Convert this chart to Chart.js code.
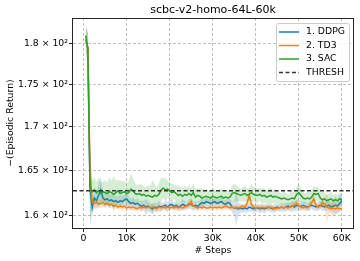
<!DOCTYPE html>
<html>
<head>
<meta charset="utf-8">
<script src="https://cdn.jsdelivr.net/npm/chart.js@4.4.1/dist/chart.umd.min.js"></script>
<style>
  html, body { margin: 0; padding: 0; background: #fff; }
  canvas { display: block; }
</style>
</head>
<body>
<canvas id="chart" width="360" height="261"></canvas>
<script>
const TITLE = "scbc-v2-homo-64L-60k";
const SERIES_NAMES = ["1. DDPG", "2. TD3", "3. SAC"];
const THRESH = 162.7;

// one entry every 500 steps, 500 .. 60000
const STEPS = Array.from({ length: 120 }, (_, i) => (i + 1) * 500);

const DDPG_MEAN = [
  180.5, 179.5, 163.0, 160.8, 161.9, 161.6, 162.2, 162.8, 161.9, 161.7,
  161.8, 161.6, 161.7, 161.5, 161.6, 161.4, 161.6, 161.5, 161.7, 161.8,
  161.5, 161.3, 161.4, 161.2, 161.3, 161.1, 161.0, 161.1, 160.9, 161.0,
  160.8, 160.7, 160.9, 160.8, 161.0, 160.9, 161.0, 161.1, 160.9, 161.1,
  161.2, 161.0, 161.1, 160.9, 161.0, 161.2, 161.1, 161.0, 161.3, 161.2,
  161.0, 161.1, 161.0, 161.2, 161.4, 161.3, 161.5, 161.4, 161.3, 161.4,
  161.5, 161.3, 161.4, 161.5, 161.3, 161.2, 161.4, 161.3, 160.9, 160.8,
  160.8, 160.7, 160.8, 160.7, 160.8, 160.7, 160.9, 160.8, 160.7, 160.8,
  160.8, 160.7, 160.8, 160.7, 160.8, 160.9, 160.8, 160.7, 160.8, 160.9,
  160.8, 160.9, 160.8, 160.9, 161.0, 160.9, 161.0, 160.9, 161.1, 161.0,
  161.0, 161.1, 161.0, 160.9, 161.0, 161.1, 161.0, 160.9, 161.0, 161.1,
  161.0, 160.9, 161.0, 161.1, 160.9, 161.0, 161.1, 161.0, 161.3, 161.6
];
const DDPG_SPREAD = [
  1.5, 1.8, 4.0, 0.8, 1.2, 0.9, 1.3, 1.5, 0.9, 0.8,
  0.7, 0.8, 0.6, 0.7, 0.6, 0.7, 0.6, 0.7, 0.6, 0.7,
  0.6, 0.5, 0.6, 0.5, 0.6, 0.5, 0.6, 0.5, 0.9, 0.6,
  0.5, 0.6, 0.5, 0.5, 0.6, 0.5, 0.4, 0.5, 0.6, 0.5,
  0.5, 0.4, 0.5, 0.4, 0.5, 0.6, 0.5, 0.4, 0.5, 0.6,
  0.5, 0.4, 0.5, 0.4, 0.5, 0.4, 0.5, 0.4, 0.5, 0.4,
  0.4, 0.5, 0.4, 0.5, 0.4, 0.5, 0.4, 0.5, 0.6, 0.8,
  2.0, 0.7, 0.5, 0.4, 0.5, 0.4, 0.5, 0.4, 0.5, 0.4,
  0.4, 0.5, 0.4, 0.5, 0.4, 0.4, 0.5, 0.4, 0.5, 0.4,
  0.4, 0.5, 0.4, 0.5, 0.4, 0.5, 0.6, 0.5, 0.6, 0.5,
  0.5, 0.4, 0.5, 0.4, 0.5, 0.4, 0.5, 0.4, 0.5, 0.4,
  0.5, 0.4, 0.5, 0.6, 0.5, 0.7, 1.0, 0.8, 0.9, 0.7
];

const TD3_MEAN = [
  180.5, 179.5, 165.0, 161.5, 161.3, 161.4, 161.2, 161.3, 161.4, 161.2,
  161.3, 161.1, 161.2, 161.0, 161.1, 160.9, 161.0, 160.9, 161.0, 160.8,
  160.9, 160.8, 160.9, 160.8, 160.7, 160.9, 160.8, 160.9, 160.8, 160.9,
  160.8, 160.9, 160.8, 160.7, 160.9, 160.8, 160.9, 160.8, 160.9, 160.8,
  160.9, 160.8, 160.9, 160.8, 160.9, 160.8, 160.9, 161.0, 161.1, 161.5,
  161.0, 160.9, 160.8, 160.9, 160.8, 160.9, 160.8, 160.8, 160.9, 160.8,
  160.9, 160.8, 160.9, 160.8, 160.9, 161.0, 160.9, 160.8, 160.9, 160.8,
  160.9, 160.8, 160.9, 161.0, 160.9, 161.3, 162.2, 161.2, 160.9, 160.8,
  160.9, 160.8, 160.9, 160.8, 160.9, 160.8, 160.9, 160.8, 160.7, 160.8,
  160.8, 160.9, 160.8, 160.9, 160.8, 160.9, 161.0, 161.1, 161.3, 161.0,
  160.9, 160.8, 160.9, 160.8, 161.0, 161.4, 161.8, 161.1, 160.9, 161.0,
  161.4, 161.2, 160.9, 160.8, 160.7, 160.8, 160.7, 160.8, 160.7, 160.7
];
const TD3_SPREAD = [
  1.5, 1.8, 3.5, 0.6, 0.5, 0.5, 0.4, 0.5, 0.4, 0.4,
  0.4, 0.3, 0.4, 0.3, 0.4, 0.3, 0.3, 0.4, 0.3, 0.3,
  0.3, 0.3, 0.4, 0.3, 0.3, 0.3, 0.4, 0.3, 0.3, 0.3,
  0.3, 0.4, 0.3, 0.3, 0.3, 0.4, 0.3, 0.3, 0.3, 0.3,
  0.3, 0.3, 0.3, 0.4, 0.3, 0.3, 0.3, 0.3, 0.4, 0.5,
  0.4, 0.3, 0.3, 0.3, 0.3, 0.3, 0.3, 0.3, 0.3, 0.3,
  0.3, 0.3, 0.3, 0.3, 0.3, 0.4, 0.3, 0.3, 0.3, 0.3,
  0.3, 0.3, 0.3, 0.3, 0.3, 0.5, 0.7, 0.5, 0.3, 0.3,
  0.3, 0.3, 0.3, 0.3, 0.3, 0.3, 0.3, 0.3, 0.3, 0.3,
  0.3, 0.3, 0.3, 0.3, 0.3, 0.3, 0.4, 0.4, 0.5, 0.4,
  0.3, 0.3, 0.3, 0.3, 0.4, 0.5, 0.6, 0.4, 0.3, 0.4,
  0.5, 0.6, 1.8, 0.6, 0.5, 1.0, 0.6, 0.4, 0.4, 0.3
];

const SAC_MEAN = [
  181.0, 179.3, 163.2, 162.6, 162.8, 162.5, 162.7, 162.4, 162.6, 162.5,
  162.4, 162.6, 162.5, 162.3, 162.5, 162.7, 162.4, 162.5, 162.6, 162.4,
  162.5, 162.9, 162.7, 162.4, 162.3, 162.4, 162.2, 162.3, 162.1, 162.2,
  162.1, 162.0, 162.2, 162.1, 162.3, 162.8, 163.0, 162.8, 162.9, 162.7,
  162.5, 162.6, 162.4, 162.2, 162.3, 162.1, 162.3, 162.2, 162.4, 162.2,
  162.5, 162.0, 162.2, 162.1, 161.9, 162.0, 162.1, 162.0, 161.9, 162.1,
  162.0, 161.9, 162.0, 162.1, 161.9, 162.0, 161.9, 162.0, 162.4, 162.5,
  162.4, 162.3, 162.2, 162.3, 162.4, 162.2, 162.3, 162.5, 162.3, 162.2,
  162.2, 162.3, 162.1, 162.2, 162.0, 162.1, 162.2, 162.0, 162.1, 162.0,
  161.9, 161.8, 161.9, 161.8, 161.7, 161.8, 161.9, 161.8, 162.3, 162.5,
  162.2, 161.9, 161.8, 161.9, 161.8, 162.0, 162.4, 162.3, 162.4, 161.9,
  161.7, 161.8, 161.6, 161.7, 161.8, 161.6, 161.7, 161.6, 161.8, 161.7
];
const SAC_SPREAD = [
  1.5, 2.2, 4.0, 1.2, 1.4, 1.2, 1.5, 1.3, 1.1, 1.4,
  1.2, 1.6, 1.3, 2.0, 1.4, 1.2, 1.5, 1.3, 1.2, 1.1,
  1.3, 1.8, 1.4, 1.2, 1.0, 1.1, 1.2, 0.9, 1.0, 1.1,
  1.2, 1.9, 1.3, 1.0, 1.2, 1.4, 1.1, 1.3, 1.0, 0.9,
  1.0, 0.8, 0.9, 1.1, 0.8, 0.9, 1.0, 0.8, 0.9, 0.8,
  1.0, 0.9, 0.8, 0.9, 1.1, 0.8, 0.9, 0.7, 0.8, 0.9,
  0.8, 0.7, 0.8, 0.9, 0.7, 0.8, 0.7, 0.8, 0.9, 1.0,
  0.9, 0.8, 0.7, 0.8, 0.9, 0.8, 0.7, 1.0, 0.8, 0.9,
  0.8, 0.7, 0.9, 0.8, 0.7, 0.8, 0.9, 0.7, 0.8, 0.7,
  0.7, 0.6, 0.8, 0.7, 0.6, 0.7, 0.8, 0.7, 0.9, 1.0,
  0.8, 0.7, 0.6, 0.7, 0.8, 0.7, 0.9, 0.8, 0.8, 0.7,
  0.9, 0.7, 0.6, 0.7, 0.8, 0.6, 0.7, 0.6, 0.7, 0.6
];

const X_TICKS = [0, 10000, 20000, 30000, 40000, 50000, 60000];
const X_TICK_LABELS = ["0", "10K", "20K", "30K", "40K", "50K", "60K"];
const Y_TICKS = [160, 165, 170, 175, 180];
const Y_TICK_LABELS = ["1.6 × 10²", "1.65 × 10²", "1.7 × 10²", "1.75 × 10²", "1.8 × 10²"];

const X_MIN = -2450, X_MAX = 62600;
const Y_MIN = 158.6, Y_MAX = 183.2;

const COLORS = ["#1f77b4", "#ff7f0e", "#2ca02c"];
const BANDS = ["rgba(31,119,180,0.2)", "rgba(255,127,14,0.2)", "rgba(44,160,44,0.2)"];
const FONT = "DejaVu Sans";
const FS = 9.3;

const toPoints = (ys) => STEPS.map((x, i) => ({ x: x, y: ys[i] }));
const shift = (ys, sp, sign) => ys.map((v, i) => v + sign * sp[i]);

function seriesDatasets(name, mean, spread, k) {
  return [
    { label: name, data: toPoints(mean), borderColor: COLORS[k], borderWidth: 1.5,
      pointRadius: 0, fill: false, tension: 0 },
    { label: name + " hi", data: toPoints(shift(mean, spread, 1)), borderWidth: 0,
      pointRadius: 0, backgroundColor: BANDS[k], fill: "+1" },
    { label: name + " lo", data: toPoints(shift(mean, spread, -1)), borderWidth: 0,
      pointRadius: 0, fill: false }
  ];
}

// first dataset is drawn last, so SAC ends up on top like in matplotlib
const datasets = [
  { label: "THRESH", data: [{ x: X_MIN, y: THRESH }, { x: X_MAX, y: THRESH }],
    borderColor: "#333", borderWidth: 1.5, borderDash: [4, 2.5], pointRadius: 0, fill: false },
  ...seriesDatasets(SERIES_NAMES[2], SAC_MEAN, SAC_SPREAD, 2),
  ...seriesDatasets(SERIES_NAMES[1], TD3_MEAN, TD3_SPREAD, 1),
  ...seriesDatasets(SERIES_NAMES[0], DDPG_MEAN, DDPG_SPREAD, 0)
];

const framePlugin = {
  id: "frame",
  afterDatasetsDraw(chart) {
    const { ctx, chartArea: a } = chart;
    ctx.save();
    ctx.strokeStyle = "#262626";
    ctx.lineWidth = 1;
    ctx.setLineDash([]);
    ctx.strokeRect(Math.round(a.left) - 0.5, Math.round(a.top) + 0.5,
      Math.round(a.right - a.left) + 1, Math.round(a.bottom - a.top));
    ctx.restore();
  }
};

const titleLegendPlugin = {
  id: "titleLegend",
  afterDraw(chart) {
    const { ctx, chartArea: a } = chart;
    ctx.save();
    ctx.fillStyle = "#000";
    ctx.font = "11px '" + FONT + "'";
    ctx.textAlign = "center";
    ctx.textBaseline = "middle";
    ctx.fillText(TITLE, (a.left + a.right) / 2, 10.5);

    // legend box in the upper right corner
    const bx = a.right - 77, by = a.top + 5, bw = 73, bh = 58;
    ctx.beginPath();
    ctx.roundRect(bx + 0.5, by + 0.5, bw, bh, 2);
    ctx.fillStyle = "rgba(255,255,255,0.85)";
    ctx.fill();
    ctx.strokeStyle = "#cccccc";
    ctx.lineWidth = 1;
    ctx.stroke();

    const items = [
      { text: SERIES_NAMES[0], color: COLORS[0], dash: [] },
      { text: SERIES_NAMES[1], color: COLORS[1], dash: [] },
      { text: SERIES_NAMES[2], color: COLORS[2], dash: [] },
      { text: "THRESH", color: "#333", dash: [4, 2.5] }
    ];
    ctx.font = FS + "px '" + FONT + "'";
    ctx.textAlign = "left";
    items.forEach((it, i) => {
      const y = by + 9 + i * 13.5;
      ctx.beginPath();
      ctx.setLineDash(it.dash);
      ctx.strokeStyle = it.color;
      ctx.lineWidth = 1.5;
      ctx.moveTo(bx + 3, y);
      ctx.lineTo(bx + 23, y);
      ctx.stroke();
      ctx.setLineDash([]);
      ctx.fillStyle = "#000";
      ctx.fillText(it.text, bx + 30, y);
    });
    ctx.restore();
  }
};

new Chart(document.getElementById("chart"), {
  type: "line",
  data: { datasets: datasets },
  plugins: [framePlugin, titleLegendPlugin],
  options: {
    responsive: false,
    animation: false,
    devicePixelRatio: 1,
    layout: { padding: { top: 18, right: 7, left: 0, bottom: 0 } },
    plugins: { legend: { display: false }, tooltip: { enabled: false }, title: { display: false } },
    scales: {
      x: {
        type: "linear",
        min: X_MIN,
        max: X_MAX,
        afterBuildTicks: (s) => { s.ticks = X_TICKS.map(v => ({ value: v })); },
        afterFit: (s) => { s.height = 33; },
        ticks: {
          color: "#000",
          font: { family: FONT, size: FS },
          padding: 1,
          maxRotation: 0,
          callback: (v, i) => X_TICK_LABELS[i]
        },
        grid: { color: "rgba(176,176,176,0.8)", tickColor: "#262626", tickLength: 4, tickBorderDash: [] },
        border: { display: false, dash: [3, 2] },
        title: { display: true, text: "# Steps", color: "#000", font: { family: FONT, size: FS }, padding: { top: 0, bottom: 5 } }
      },
      y: {
        type: "logarithmic",
        min: Y_MIN,
        max: Y_MAX,
        afterBuildTicks: (s) => { s.ticks = Y_TICKS.map(v => ({ value: v })); },
        afterFit: (s) => { s.width = 73; },
        ticks: {
          color: "#000",
          font: { family: FONT, size: FS },
          padding: 1,
          callback: (v, i) => Y_TICK_LABELS[i]
        },
        grid: { color: "rgba(176,176,176,0.8)", tickColor: "#262626", tickLength: 4, tickBorderDash: [] },
        border: { display: false, dash: [3, 2] },
        title: { display: true, text: "−(Episodic Return)", color: "#000", font: { family: FONT, size: FS }, padding: { top: 5, bottom: 0 } }
      }
    }
  }
});
</script>
</body>
</html>
